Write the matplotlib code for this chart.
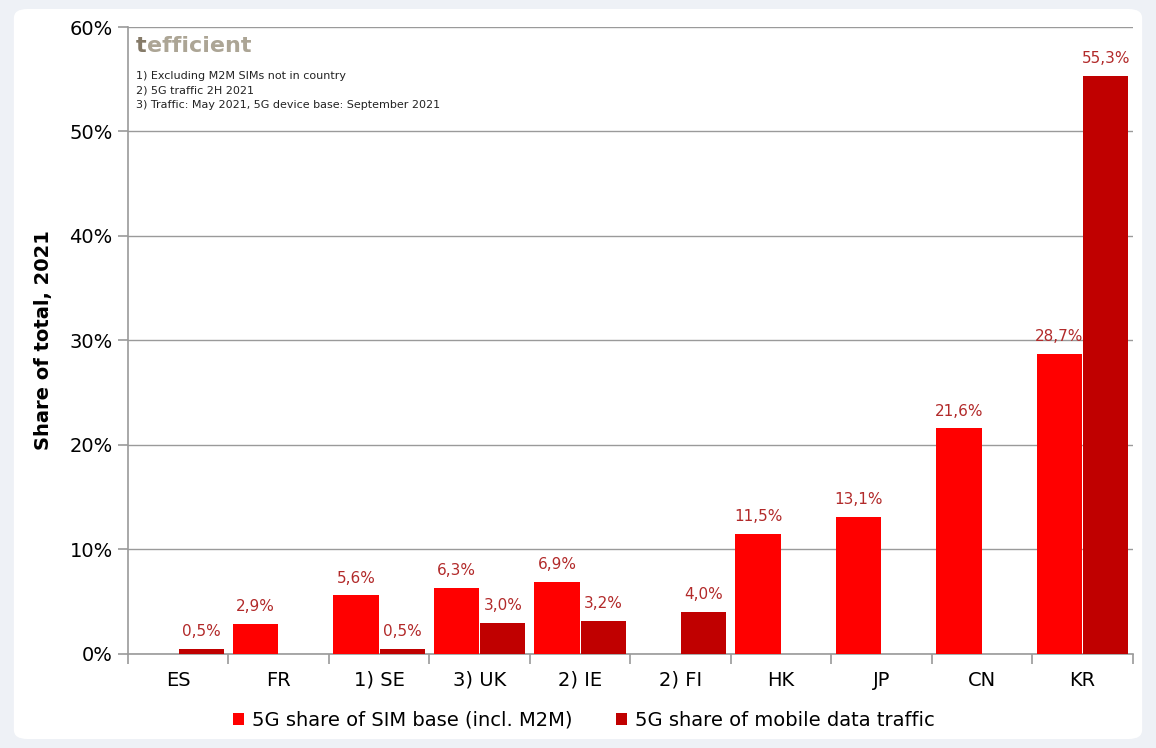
import matplotlib
matplotlib.use("Agg")
import matplotlib.pyplot as plt
from matplotlib.patches import FancyBboxPatch
import numpy as np

categories = ["ES", "FR", "1) SE", "3) UK", "2) IE", "2) FI", "HK", "JP", "CN", "KR"]
sim_share = [None, 2.9, 5.6, 6.3, 6.9, None, 11.5, 13.1, 21.6, 28.7]
traffic_share = [0.5, None, 0.5, 3.0, 3.2, 4.0, None, None, None, 55.3]
series_names = ["5G share of SIM base (incl. M2M)", "5G share of mobile data traffic"]
notes = ["1) Excluding M2M SIMs not in country",
         "2) 5G traffic 2H 2021",
         "3) Traffic: May 2021, 5G device base: September 2021"]

plt.rcParams['font.family'] = ['DejaVu Sans']

fig = plt.figure(figsize=(11.56, 7.48), dpi=100)
fig.patch.set_facecolor("#eef1f6")
panel = FancyBboxPatch((0.012, 0.012), 0.976, 0.976, boxstyle="round,pad=0,rounding_size=0.012",
                       transform=fig.transFigure, facecolor="white", edgecolor="none", zorder=-5)
fig.patches.append(panel)

ax = fig.add_axes([0.1107, 0.1257, 0.8693, 0.8382])
ax.set_zorder(2)
ax.set_facecolor("none")

x = np.arange(len(categories))
w = 0.45
c_sim = "#ff0000"
c_tr = "#c00000"
lab_col = "#b22a2a"

sim_vals = [np.nan if v is None else v for v in sim_share]
tr_vals = [np.nan if v is None else v for v in traffic_share]
b1 = ax.bar(x - w / 2 - 0.005, sim_vals, width=w, color=c_sim, label=series_names[0], zorder=3)
b2 = ax.bar(x + w / 2 + 0.005, tr_vals, width=w, color=c_tr, label=series_names[1], zorder=3)

for bars, vals in ((b1, sim_share), (b2, traffic_share)):
    for rect, v in zip(bars, vals):
        if v is None:
            continue
        ax.annotate(f"{v:.1f}%".replace(".", ","),
                    (rect.get_x() + rect.get_width() / 2, v),
                    xytext=(0, 7), textcoords="offset points",
                    ha="center", va="bottom", color=lab_col, fontsize=11, zorder=4)

ax.set_xlim(-0.5, len(categories) - 0.5)
ax.set_ylim(0, 60)
ax.set_yticks(np.arange(0, 61, 10))
ax.set_yticklabels([f"{t}%" for t in range(0, 61, 10)], fontsize=14)
ax.yaxis.grid(True, color="#9a9a9a", linewidth=1, zorder=1)
ax.set_axisbelow(True)

ax.set_xticks(x)
ax.set_xticklabels(categories, fontsize=14)
ax.tick_params(axis="x", length=0, pad=12)
ax.set_xticks(np.arange(-0.5, len(categories), 1), minor=True)
ax.tick_params(axis="x", which="minor", length=7, color="#9a9a9a", width=1.2)
ax.tick_params(axis="y", length=7, color="#9a9a9a", width=1.2, pad=4)

for s in ["top", "right"]:
    ax.spines[s].set_visible(False)
for s in ["left", "bottom"]:
    ax.spines[s].set_color("#9a9a9a")
    ax.spines[s].set_linewidth(1.2)

ax.set_ylabel("Share of total, 2021", fontsize=14, fontweight="bold", labelpad=12)

ax.text(0.008, 0.985, "t", transform=ax.transAxes, fontsize=16, fontweight="bold",
        color="#857a68", va="top", ha="left")
ax.text(0.0185, 0.985, "efficient", transform=ax.transAxes, fontsize=16, fontweight="bold",
        color="#aca595", va="top", ha="left")
for i, n in enumerate(notes):
    ax.text(0.008, 0.93 - i * 0.023, n, transform=ax.transAxes, fontsize=8,
            va="top", ha="left", color="#222222")

leg = fig.legend(handles=[b1, b2], labels=series_names, loc="center", ncol=2,
                 bbox_to_anchor=(0.505, 0.037), frameon=False, fontsize=14,
                 handlelength=0.6, handleheight=0.6, handletextpad=0.4, columnspacing=2.2)

fig.savefig("out.png", dpi=100, facecolor=fig.get_facecolor())
